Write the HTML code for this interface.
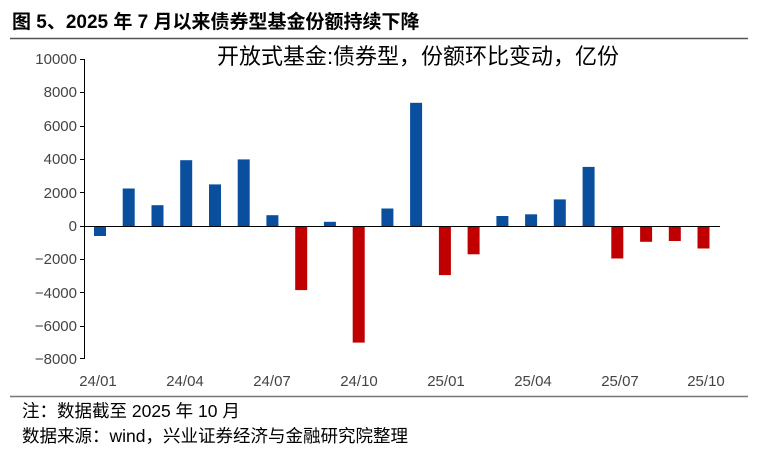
<!DOCTYPE html>
<html><head><meta charset="utf-8"><style>
body{margin:0;background:#fff;width:759px;height:445px;overflow:hidden;font-family:"Liberation Sans","Noto Sans CJK SC",sans-serif;}
</style></head><body>
<svg width="759" height="445" xmlns="http://www.w3.org/2000/svg" font-family="Liberation Sans, Noto Sans CJK SC, sans-serif">
<text x="12" y="28" font-size="19" font-weight="bold" fill="#000">图 5、2025 年 7 月以来债券型基金份额持续下降</text>
<line x1="10" y1="38.5" x2="748" y2="38.5" stroke="#555" stroke-width="1.5"/>
<text x="418" y="64" font-size="22" text-anchor="middle" fill="#000">开放式基金:债券型，份额环比变动，亿份</text>
<g font-size="15" fill="#444" text-anchor="end">
<text x="77" y="64">10000</text><text x="77" y="97">8000</text><text x="77" y="131">6000</text>
<text x="77" y="164">4000</text><text x="77" y="198">2000</text><text x="77" y="231">0</text>
<text x="77" y="264">−2000</text><text x="77" y="298">−4000</text><text x="77" y="331">−6000</text><text x="77" y="364">−8000</text>
</g>
<g stroke="#000" stroke-width="1">
<line x1="84.5" y1="59" x2="84.5" y2="359"/>
<line x1="80" y1="59.5" x2="84" y2="59.5"/><line x1="80" y1="92.5" x2="84" y2="92.5"/><line x1="80" y1="126.5" x2="84" y2="126.5"/>
<line x1="80" y1="159.5" x2="84" y2="159.5"/><line x1="80" y1="192.5" x2="84" y2="192.5"/><line x1="80" y1="226.5" x2="84" y2="226.5"/>
<line x1="80" y1="259.5" x2="84" y2="259.5"/><line x1="80" y1="292.5" x2="84" y2="292.5"/><line x1="80" y1="326.5" x2="84" y2="326.5"/>
<line x1="80" y1="358.5" x2="84" y2="358.5"/>
</g>
<g fill="#0a4f9e">
<rect x="94" y="226" width="12" height="10"/>
<rect x="122.7" y="188.5" width="12" height="37.5"/>
<rect x="151.5" y="205.2" width="12" height="20.8"/>
<rect x="180.2" y="160.2" width="12" height="65.8"/>
<rect x="209" y="184.4" width="12" height="41.6"/>
<rect x="237.7" y="159.4" width="12" height="66.6"/>
<rect x="266.4" y="215.2" width="12" height="10.8"/>
<rect x="323.9" y="221.8" width="12" height="4.2"/>
<rect x="381.4" y="208.5" width="12" height="17.5"/>
<rect x="410.1" y="102.8" width="12" height="123.2"/>
<rect x="496.4" y="216" width="12" height="10"/>
<rect x="525.1" y="214.3" width="12" height="11.7"/>
<rect x="553.8" y="199.4" width="12" height="26.6"/>
<rect x="582.6" y="166.9" width="12" height="59.1"/>
</g>
<g fill="#c00000">
<rect x="295.2" y="226" width="12" height="64.1"/>
<rect x="352.7" y="226" width="12" height="116.6"/>
<rect x="438.9" y="226" width="12" height="49.1"/>
<rect x="467.6" y="226" width="12" height="28.3"/>
<rect x="611.3" y="226" width="12" height="32.5"/>
<rect x="640.1" y="226" width="12" height="15.8"/>
<rect x="668.8" y="226" width="12" height="15"/>
<rect x="697.5" y="226" width="12" height="22.5"/>
</g>
<line x1="84" y1="226.5" x2="720" y2="226.5" stroke="#000" stroke-width="1"/>
<g font-size="15" fill="#444" text-anchor="middle">
<text x="98" y="386">24/01</text><text x="185" y="386">24/04</text><text x="272" y="386">24/07</text><text x="359" y="386">24/10</text>
<text x="446" y="386">25/01</text><text x="533" y="386">25/04</text><text x="620" y="386">25/07</text><text x="706" y="386">25/10</text>
</g>
<line x1="10" y1="396.5" x2="748" y2="396.5" stroke="#777" stroke-width="1.5"/>
<text x="22" y="417" font-size="17.5" fill="#000">注：数据截至 2025 年 10 月</text>
<text x="22" y="442" font-size="17.5" fill="#000">数据来源：wind，兴业证券经济与金融研究院整理</text>
</svg>
</body></html>
